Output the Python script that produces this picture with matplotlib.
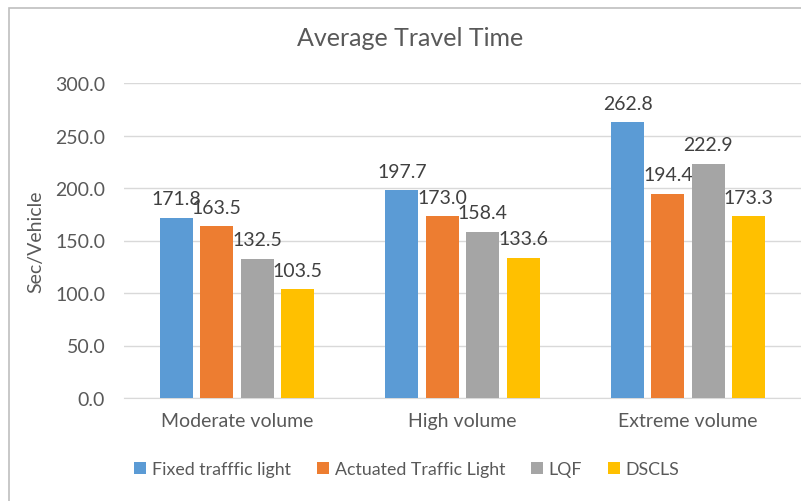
import matplotlib
matplotlib.use("Agg")
import matplotlib.pyplot as plt
from matplotlib.patches import Rectangle
import numpy as np

categories = ["Moderate volume", "High volume", "Extreme volume"]
series_names = ["Fixed trafffic light", "Actuated Traffic Light", "LQF", "DSCLS"]
fixed = [171.8, 197.7, 262.8]
actuated = [163.5, 173.0, 194.4]
lqf = [132.5, 158.4, 222.9]
dscls = [103.5, 133.6, 173.3]
yticks = [0, 50, 100, 150, 200, 250, 300]

colors = ["#5B9BD5", "#ED7D31", "#A5A5A5", "#FFC000"]
plt.rcParams['font.family'] = ['Lato', 'DejaVu Sans']
FS = 14

fig = plt.figure(figsize=(8.01, 5.02), dpi=100)
fig.patches.append(Rectangle((9/801, -0.1), 2, 1 - 9/502 + 0.1, transform=fig.transFigure,
                             fill=False, edgecolor="#BFBFBF", linewidth=1.2))
ax = fig.add_axes([124/801, 1 - 399/502, 677/801, 315/502])

x = np.arange(len(categories))
width = 0.146
pitch = 0.179
for i, (vals, name) in enumerate(zip([fixed, actuated, lqf, dscls], series_names)):
    pos = x + (i - 1.5) * pitch
    ax.bar(pos, vals, width, color=colors[i], label=name, zorder=3)
    for p, v in zip(pos, vals):
        ax.text(p, v + 10, f"{v:.1f}", ha="center", va="bottom", fontsize=FS, color="#404040")

ax.set_xlim(-0.5, 2.5)
ax.set_ylim(0, 300)
ax.set_yticks(yticks)
ax.set_yticklabels([f"{t:.1f}" for t in yticks])
ax.yaxis.grid(True, color="#D9D9D9", linewidth=1, zorder=0)
ax.set_xticks(x)
ax.set_xticklabels(categories)
ax.tick_params(axis="both", length=0, labelsize=FS, labelcolor="#595959")
ax.tick_params(axis="y", pad=13.5)
ax.tick_params(axis="x", pad=10)
for s in ["top", "right", "left"]:
    ax.spines[s].set_visible(False)
ax.spines["bottom"].set_color("#D9D9D9")
ax.set_ylabel("Sec/Vehicle", fontsize=FS, color="#595959", labelpad=8)

fig.text(410/801, 1 - 39/502, "Average Travel Time", ha="center", va="center", fontsize=18, color="#595959")

handles, labels = ax.get_legend_handles_labels()
fig.legend(handles, labels, loc="center", bbox_to_anchor=(407/801, 1 - 470/502), ncol=4, frameon=False,
           fontsize=12.8, labelcolor="#595959", handlelength=0.65, handleheight=0.65, handletextpad=0.35,
           columnspacing=1.45)

fig.savefig("out.png", dpi=100)
